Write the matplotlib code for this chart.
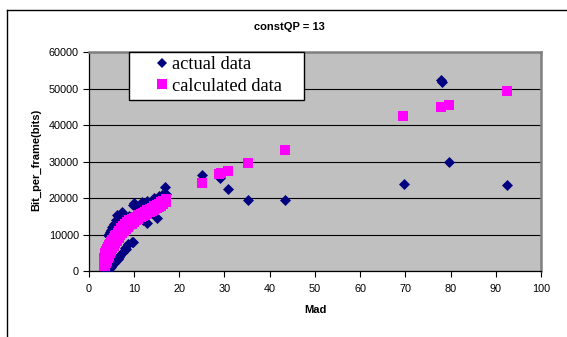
import matplotlib
matplotlib.use("Agg")
import matplotlib.pyplot as plt
from matplotlib.lines import Line2D
from matplotlib.patches import Rectangle

# ---------------- data ----------------
title = "constQP = 13"
x_label = "Mad"
y_label = "Bit_per_frame(bits)"
series_names = ["actual data", "calculated data"]

x_ticks = [0, 10, 20, 30, 40, 50, 60, 70, 80, 90, 100]
y_ticks = [0, 10000, 20000, 30000, 40000, 50000, 60000]

actual_x = [
    3.9, 4.1, 4.3, 4.6, 4.9, 5.2, 5.5, 5.8, 6.1, 6.4, 6.7, 7.0, 7.5, 8.0, 8.2, 8.6, 9.5, 9.9,
    4.3, 4.6, 4.9, 5.2, 5.6, 6.0, 6.3, 6.8, 7.3, 7.6, 8.2, 8.8, 9.0,
    9.8, 10.0, 11.0, 11.7, 12.1, 12.5, 12.8, 13.0, 14.0, 14.5, 15.0, 15.5, 16.2, 16.8, 17.2,
    25.0, 29.1, 30.9, 35.3, 43.4, 69.8, 77.9, 78.2, 79.7, 92.5,
]
actual_y = [
    200, 0, 600, 900, 1200, 1600, 2100, 2600, 3000, 3400, 3800, 4300, 5200, 6200, 5900, 7300, 8000, 7900,
    10000, 10600, 11200, 12000, 12800, 14000, 15400, 14500, 16200, 15300, 14600, 11700, 15200,
    18000, 18600, 17000, 18800, 14000, 18600, 13100, 19300, 16000, 20000, 14500, 20500, 20800, 23000, 21000,
    26300, 25400, 22400, 19500, 19500, 23800, 52400, 51900, 29800, 23500,
]

calc_x = [
    3.3, 3.4, 3.4, 3.4, 3.45, 3.5, 3.6, 3.7, 3.85, 4.0, 4.2, 4.4, 4.65, 4.9, 5.2, 5.5, 5.8, 6.1,
    6.45, 6.8, 7.2, 7.6, 8.0, 8.5, 9.0, 9.5, 10.0, 10.4, 11.0, 11.5, 12.0, 12.5, 13.0, 13.5,
    14.0, 14.5, 15.0, 15.5, 16.0, 16.5, 17.2,
    3.6, 3.8, 4.0, 4.25, 4.5, 4.75, 5.0, 5.25, 5.5, 5.85, 6.2, 6.6, 7.0, 7.4, 7.8, 8.2, 8.6,
    9.0, 9.5, 10.0, 10.5, 11.0, 11.5, 12.0, 12.5, 13.0, 13.5, 14.0, 14.5, 15.0, 15.5, 16.0,
    16.5, 17.0,
    25.0, 28.8, 29.3, 30.9, 35.3, 43.4, 69.5, 77.9, 79.6, 92.4,
]
calc_y = [
    1300, 2000, 2500, 3000, 3500, 4000, 4500, 5000, 5500, 6000, 6500, 7000, 7500, 8000, 8500, 9000, 9500, 10000,
    10500, 11000, 11700, 12400, 12900, 13500, 13900, 14300, 14600, 14900, 15300, 15600, 16000, 16300, 16650, 17000,
    17350, 17700, 18100, 18500, 18850, 19200, 19800,
    1500, 2150, 2800, 3500, 4200, 4900, 5600, 6250, 6900, 7600, 8300, 9050, 9800, 10400, 11000, 11550, 12100,
    12500, 13000, 13450, 13900, 14300, 14700, 15050, 15400, 15750, 16100, 16450, 16800, 17150, 17500, 17900,
    18300, 18800,
    24200, 26600, 27000, 27500, 29600, 33200, 42600, 45100, 45600, 49300,
]

# ---------------- figure ----------------
W, H, DPI = 567, 337, 100
fig = plt.figure(figsize=(W / DPI, H / DPI), dpi=DPI)
fig.patch.set_facecolor("white")

# outer chart frame (left and top edges visible)
fig.add_artist(Line2D([7 / W, 7 / W], [0, 1 - 9.5 / H], transform=fig.transFigure,
                      color="black", lw=1.0))
fig.add_artist(Line2D([7 / W, 1], [1 - 9.5 / H, 1 - 9.5 / H], transform=fig.transFigure,
                      color="black", lw=1.0))

left, right, top, bottom = 88.7, 541, 52.3, 271
ax = fig.add_axes([left / W, 1 - bottom / H, (right - left) / W, (bottom - top) / H])
ax.set_facecolor("#C0C0C0")

ax.set_xlim(0, 100)
ax.set_ylim(0, 60000)
ax.set_xticks(x_ticks)
ax.set_yticks(y_ticks)
ax.set_xticklabels([str(t) for t in x_ticks])
ax.set_yticklabels([str(t) for t in y_ticks])

for lab in ax.get_xticklabels() + ax.get_yticklabels():
    lab.set_fontfamily("Liberation Sans")
    lab.set_fontsize(7.8)
    lab.set_color("black")

ax.tick_params(axis="both", direction="out", length=4, width=0.8, color="black", pad=3)
ax.tick_params(axis="x", pad=5)

ax.yaxis.grid(True, color="black", lw=0.8)
ax.xaxis.grid(False)
ax.set_axisbelow(True)

for s in ["left", "bottom"]:
    ax.spines[s].set_color("black")
    ax.spines[s].set_linewidth(0.9)
for s in ["top", "right"]:
    ax.spines[s].set_color("#808080")
    ax.spines[s].set_linewidth(1.8)

ax.scatter(actual_x, actual_y, marker="D", s=5.6 ** 2, color="#000080", linewidths=0,
           zorder=3, label=series_names[0])
ax.scatter(calc_x, calc_y, marker="s", s=6.5 ** 2, color="#FF00FF", linewidths=0,
           zorder=4, label=series_names[1])

# texts
fig.text(289 / W, 1 - 27 / H, title, ha="center", va="center",
         family="Liberation Sans", weight="bold", size=8)
fig.text(315 / W, 1 - 310 / H, x_label, ha="center", va="center",
         family="Liberation Sans", weight="bold", size=8)
fig.text(36 / W, 1 - 160 / H, y_label, ha="center", va="center", rotation=90,
         family="Liberation Sans", weight="bold", size=8)

# legend box
box_l, box_r, box_t, box_b = 129, 304, 52, 100
fig.add_artist(Rectangle((box_l / W, 1 - box_b / H), (box_r - box_l) / W, (box_b - box_t) / H,
                         transform=fig.transFigure, facecolor="white", edgecolor="black",
                         lw=1.0, zorder=5))
handles = [
    Line2D([], [], marker="D", color="#000080", ls="none", markersize=5.6, markeredgewidth=0),
    Line2D([], [], marker="s", color="#FF00FF", ls="none", markersize=6.5, markeredgewidth=0),
]
leg = fig.legend(handles, series_names, loc="upper left",
                 bbox_to_anchor=(155 / W, 1 - 56 / H), frameon=False,
                 prop=dict(family="Liberation Serif", size=13.2),
                 handlelength=0.75, handletextpad=0.2, borderpad=0, borderaxespad=0,
                 labelspacing=0.26)
leg.set_zorder(6)

fig.savefig("out.png", dpi=DPI, facecolor="white")
